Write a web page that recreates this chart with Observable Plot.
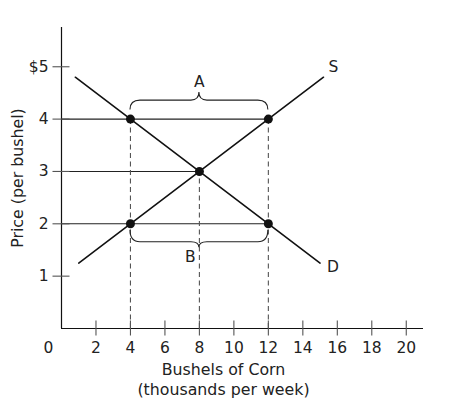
<!DOCTYPE html>
<html><head><meta charset="utf-8">
<script src="https://cdn.jsdelivr.net/npm/d3@7"></script>
<script src="https://cdn.jsdelivr.net/npm/@observablehq/plot@0.6"></script>
<style>body{margin:0;background:#fff} #chart svg{display:block}</style>
</head><body><div id="chart"></div>
<script>
const xTicks = [2, 4, 6, 8, 10, 12, 14, 16, 18, 20];
const yTicks = [1, 2, 3, 4, 5];
const yTickLabels = ["1", "2", "3", "4", "$5"];
const supplyQ = [1, 15.2];
const supplyP = [1.25, 4.8];
const demandQ = [0.8, 15];
const demandP = [4.8, 1.25];
const pointQ = [4, 12, 8, 4, 12];
const pointP = [4, 4, 3, 2, 2];
const priceLevels = [4, 3, 2];
const priceLevelQ = [12, 8, 12];
const dropQ = [4, 8, 12];
const dropP = [4, 3, 4];
const braceLabels = ["A", "B"];
const braceQ1 = [4, 4];
const braceQ2 = [12, 12];
const braceP = [4, 2];
const xTitle = "Bushels of Corn\n(thousands per week)";
const yTitle = "Price (per bushel)";

const ink = "#222";
const font = "'DejaVu Sans', sans-serif";
const supply = supplyQ.map((q, i) => ({q, p: supplyP[i]}));
const demand = demandQ.map((q, i) => ({q, p: demandP[i]}));
const points = pointQ.map((q, i) => ({q, p: pointP[i]}));
const levels = priceLevels.map((p, i) => ({p, q: priceLevelQ[i]}));
const drops = dropQ.map((q, i) => ({q, p: dropP[i]}));

const vTick = {draw(ctx) { ctx.moveTo(0, -8); ctx.lineTo(0, 7); }};
const hTick = {draw(ctx) { ctx.moveTo(-9, 0); ctx.lineTo(8, 0); }};

function braces(index, scales) {
  const g = d3.create("svg:g");
  braceP.forEach((p, i) => {
    const dir = i === 0 ? -1 : 1;
    const x1 = scales.x(braceQ1[i]), x2 = scales.x(braceQ2[i]), xm = (x1 + x2) / 2;
    const y0 = scales.y(p);
    const yEnd = y0 + dir * (i === 0 ? 9 : 6.5);
    const yH = y0 + dir * 18.5;
    const yTip = y0 + dir * (i === 0 ? 26.5 : 24);
    const r = 10, t = 8;
    const d = `M${x1},${yEnd} Q${x1},${yH} ${x1 + r},${yH} L${xm - t},${yH} Q${xm},${yH} ${xm},${yTip} Q${xm},${yH} ${xm + t},${yH} L${x2 - r},${yH} Q${x2},${yH} ${x2},${yEnd}`;
    g.append("path").attr("d", d).attr("fill", "none").attr("stroke", ink).attr("stroke-width", 1.1);
  });
  return g.node();
}

const tickFont = 15.5, titleFont = 15.8;

const chart = Plot.plot({
  width: 463,
  height: 413,
  marginLeft: 61,
  marginRight: 40,
  marginTop: 27,
  marginBottom: 85,
  x: {domain: [0, 21], axis: null},
  y: {domain: [0, 5.75], axis: null},
  style: {fontFamily: font, fontSize: "15px", color: ink, background: "#fff"},
  marks: [
    Plot.ruleY(levels, {y: "p", x1: () => 0, x2: "q", stroke: ink, strokeWidth: 1.1}),
    Plot.ruleX(drops, {x: "q", y1: () => 0, y2: "p", stroke: "#555", strokeWidth: 1.1, strokeDasharray: "5,3.5"}),
    Plot.line(supply, {x: "q", y: "p", stroke: "#111", strokeWidth: 1.6}),
    Plot.line(demand, {x: "q", y: "p", stroke: "#111", strokeWidth: 1.6}),
    Plot.ruleX([0], {stroke: "#111", strokeWidth: 1.2}),
    Plot.ruleY([0], {stroke: "#111", strokeWidth: 1.2}),
    Plot.dot(xTicks, {x: d => d, y: () => 0, symbol: vTick, stroke: "#555", fill: "none", strokeWidth: 1.1}),
    Plot.dot(yTicks, {x: () => 0, y: d => d, symbol: hTick, stroke: "#555", fill: "none", strokeWidth: 1.1}),
    Plot.dot(points, {x: "q", y: "p", r: 4.5, fill: "#111", stroke: "none"}),
    braces,
    Plot.text(xTicks, {x: d => d, y: () => 0, text: d => String(d), dy: 20, fontSize: tickFont, lineAnchor: "middle", fill: ink}),
    Plot.text(yTicks, {x: () => 0, y: d => d, text: (d, i) => yTickLabels[i], textAnchor: "end", dx: -13, fontSize: tickFont, lineAnchor: "middle", fill: ink}),
    Plot.text(["0"], {x: () => 0, y: () => 0, text: d => d, dx: -13, dy: 20, fontSize: tickFont, lineAnchor: "middle", fill: ink}),
    Plot.text([braceLabels[0]], {x: () => (braceQ1[0] + braceQ2[0]) / 2, y: () => braceP[0], text: d => d, dy: -37, fontSize: tickFont, lineAnchor: "middle", fill: ink}),
    Plot.text([braceLabels[1]], {x: () => (braceQ1[1] + braceQ2[1]) / 2, y: () => braceP[1], text: d => d, dx: -9, dy: 33, fontSize: tickFont, lineAnchor: "middle", fill: ink}),
    Plot.text(["S"], {x: () => supplyQ[1], y: () => supplyP[1], text: d => d, dx: 10, dy: -10, fontSize: tickFont, lineAnchor: "middle", fill: ink}),
    Plot.text(["D"], {x: () => demandQ[1], y: () => demandP[1], text: d => d, dx: 13, dy: 4, fontSize: tickFont, lineAnchor: "middle", fill: ink}),
    Plot.text([yTitle], {frameAnchor: "left", text: d => d, dx: -44, rotate: -90, textAnchor: "middle", fontSize: titleFont, lineAnchor: "middle", fill: ink}),
    Plot.text([xTitle], {frameAnchor: "bottom", text: d => d, dx: -19, dy: 50, textAnchor: "middle", fontSize: titleFont, lineHeight: 1.28, lineAnchor: "middle", fill: ink})
  ]
});
document.getElementById("chart").append(chart);
</script>
</body></html>
